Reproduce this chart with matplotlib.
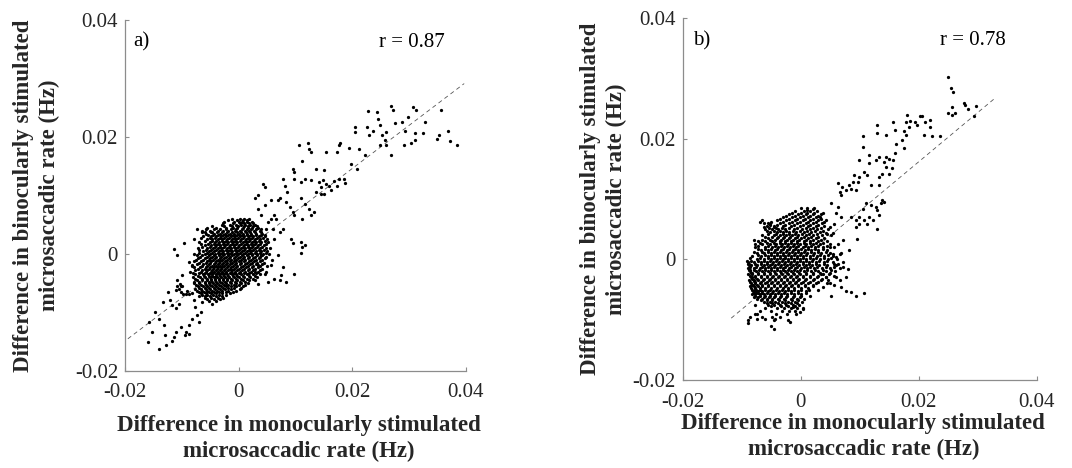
"""
plot.py
-------
Two-panel scatter: difference in binocularly vs monocularly stimulated
microsaccadic rate, with a dashed least-squares line and the correlation
coefficient in each panel.
"""

import matplotlib
matplotlib.use("Agg")

import matplotlib.pyplot as plt

# All point values are in units of 1e-3 Hz
SCALE = 1e-3

# --- Panel a) --------------------------------------------------------------
# sparse points along the trend (upper right) and the lower-left tail
a_outer_x = [
    20.4, 20.5, 22.6, 22.7, 23.0, 23.7, 24.3, 24.6, 24.9, 25.2, 24.8, 25.7,
    26.0, 26.9, 27.2, 27.5, 26.9, 28.8, 29.1, 29.2, 29.8, 30.7, 30.4, 31.0,
    31.3, 31.0, 32.4, 32.8, 35.0, 35.6, 36.8, 37.2, 38.5, 35.3, 26.0,
    10.7, 12.2, 12.4, 12.7, 15.3, 11.2, 13.6, 15.1, 17.6, 17.9, 19.4, 17.3,
    19.8, 20.8, 21.2, 22.3, 9.5, 9.8, 9.8, 11.0, 11.6, 12.7, 14.1, 14.9,
    15.3, 15.9, 14.5, 13.6, 14.5, 15.1, 16.8, 17.6, 18.5, 18.8, 17.3, 16.2,
    7.8, 8.1, 8.6, 6.9, 5.7, 4.6, 3.4, 4.0, 4.9, 5.7, 6.3, 7.2, 8.4, 9.0,
    9.5, 9.8, 11.0, 11.6, 12.4, 12.7, 13.3, 11.2, 4.3, 4.6, 3.4, 2.8,
    9.2, 9.5, 11.0, 11.2, 11.6, 11.0, 9.8, 7.8, 7.5, 7.2, 8.4, 6.3, 5.2,
    3.4, 4.6, 5.7, 6.9, 6.3, 7.2, 7.8, 6.0, 6.6, 5.2, 4.6, 4.0, 3.4, 2.8,
    -16.0, -14.0, -12.8, -15.2, -15.7, -14.8, -14.0, -13.2, -12.9, -11.7,
    -11.1, -11.4, -13.3, -12.5, -12.0, -11.7, -11.1, -10.5, -10.1, -9.5,
    -9.2, -8.8, -8.8, -8.2, -7.6, -7.3, -7.0, -6.7, -7.9, -7.0, -6.4,
    -11.4, -10.8, -9.6, -7.9, -6.4, -7.3, -4.7, -8.8, -8.2,
    -10.8, -10.2, -9.9, -10.5, -10.2, -9.8, -9.3, -8.8, -8.2, -10.8, -10.4,
    -9.9, -11.0, -9.0,
]
a_outer_y = [
    21.7, 20.9, 21.7, 24.4, 20.4, 21.0, 24.3, 23.1, 22.0, 20.3, 18.6, 19.4,
    20.9, 25.3, 24.6, 22.4, 17.0, 22.5, 18.6, 21.1, 23.4, 25.1, 19.0, 20.6,
    24.6, 19.4, 20.6, 22.6, 19.7, 24.6, 21.0, 19.3, 18.7, 20.4, 18.6,
    18.7, 18.9, 18.0, 17.4, 17.5, 15.9, 14.5, 14.3, 18.6, 18.9, 18.2, 17.4,
    15.4, 14.5, 18.0, 16.9, 14.6, 14.0, 12.9, 12.3, 12.9, 12.6, 12.3, 12.6,
    12.0, 11.7, 11.5, 10.6, 10.3, 10.3, 12.4, 12.9, 12.9, 12.1, 11.7, 10.9,
    12.9, 11.7, 10.6, 9.2, 9.2, 8.3, 7.7, 6.6, 4.3, 6.0, 6.6, 9.5, 8.9, 8.0,
    7.2, 6.6, 9.5, 8.6, 7.7, 6.6, 7.2, 6.0, 12.0, 11.5, 10.0, 9.5,
    2.6, 1.8, 2.1, 1.2, 1.6, 0.1, -3.4, -2.2, -3.6, -4.5, -4.8, -4.2, -4.8,
    -5.1, -3.4, -1.9, -0.2, 2.6, 3.8, 4.3, 4.3, 6.0, 5.5, 3.2, -0.2, -1.9, -3.1,
    -15.0, -16.2, -15.6, -13.3, -11.6, -9.9, -11.1, -12.2, -13.9, -14.8,
    -13.3, -14.2, -8.2, -6.5, -7.9, -8.8, -9.3, -8.5, -12.5, -13.9,
    -13.3, -12.2, -13.6, -11.1, -9.1, -10.5, -11.6, -9.9, -7.9, -7.1, -8.2,
    0.9, -0.2, 1.8, 2.6, 3.8, 4.3, 3.8, -1.4, -1.9,
    -4.5, -5.4, -3.6, -6.0, -6.5, -6.8, -6.9, -6.8, -6.6, -5.5, -5.2,
    -5.4, -6.2, -6.3,
]
# dense central cloud, one row of x values per y level
a_core_rows = [
    (6.0, [-1.2, 0.3, 1.0, 1.8]),
    (5.5, [-2.5, -0.8, 0.0, 0.6, 1.5, 2.3]),
    (5.0, [-3.0, -1.5, -0.5, 0.4, 1.2, 2.0, 2.8]),
    (4.5, [-5.5, -4.0, -2.2, -1.0, -0.2, 0.8, 1.6, 2.4, 3.4]),
    (4.0, [-6.5, -5.0, -3.6, -2.8, -1.8, -0.6, 0.2, 1.1, 1.9, 2.7, 3.8]),
    (3.5, [-5.8, -4.4, -3.3, -2.4, -1.5, -0.9, 0.1, 0.7, 1.5, 2.2, 3.1, 4.2]),
    (3.0, [-6.2, -4.9, -4.0, -3.1, -2.2, -1.4, -0.6, 0.3, 1.0, 1.8, 2.6, 3.5, 4.6]),
    (2.5, [-5.5, -4.6, -3.7, -2.9, -2.0, -1.2, -0.4, 0.5, 1.3, 2.0, 2.9, 3.8, 5.0]),
    (2.0, [-7.0, -5.1, -4.2, -3.4, -2.6, -1.8, -1.0, -0.2, 0.7, 1.5, 2.3, 3.1, 4.0, 5.2]),
    (1.5, [-6.0, -4.8, -4.0, -3.2, -2.4, -1.6, -0.8, 0.0, 0.9, 1.7, 2.5, 3.4, 4.4]),
    (1.0, [-7.2, -5.5, -4.5, -3.7, -2.9, -2.1, -1.3, -0.5, 0.4, 1.2, 2.0, 2.8, 3.7, 4.8, 5.6]),
    (0.5, [-6.3, -5.2, -4.3, -3.5, -2.7, -1.9, -1.1, -0.3, 0.6, 1.4, 2.2, 3.1, 4.0, 5.0]),
    (0.0, [-7.8, -6.0, -5.0, -4.1, -3.3, -2.5, -1.7, -0.9, -0.1, 0.7, 1.6, 2.4, 3.3, 4.3, 5.4]),
    (-0.5, [-6.8, -5.6, -4.7, -3.9, -3.1, -2.3, -1.5, -0.7, 0.2, 1.0, 1.9, 2.8, 3.8, 4.9]),
    (-1.0, [-7.5, -6.2, -5.3, -4.5, -3.7, -2.9, -2.1, -1.3, -0.5, 0.4, 1.2, 2.1, 3.0, 4.1, 5.8]),
    (-1.5, [-6.9, -5.8, -5.0, -4.2, -3.5, -2.8, -2.0, -1.2, -0.4, 0.5, 1.4, 2.3, 3.3, 4.5]),
    (-2.0, [-8.2, -6.5, -5.5, -4.7, -4.0, -3.3, -2.6, -1.8, -1.0, -0.2, 0.7, 1.6, 2.6, 3.7, 5.0]),
    (-2.5, [-7.2, -6.0, -5.2, -4.5, -3.8, -3.1, -2.4, -1.6, -0.8, 0.1, 1.0, 1.9, 2.9, 4.2]),
    (-3.0, [-8.5, -6.7, -5.7, -4.9, -4.3, -3.6, -2.9, -2.2, -1.4, -0.6, 0.3, 1.2, 2.2, 3.4, 4.8]),
    (-3.5, [-7.6, -6.3, -5.4, -4.7, -4.0, -3.4, -2.7, -2.0, -1.2, -0.4, 0.5, 1.5, 2.6, 3.8]),
    (-4.0, [-8.0, -6.8, -5.9, -5.1, -4.4, -3.8, -3.1, -2.4, -1.7, -0.9, 0.0, 1.0, 2.0, 3.2]),
    (-4.5, [-7.4, -6.4, -5.6, -4.9, -4.2, -3.5, -2.8, -2.0, -1.2, -0.3, 0.7, 1.8, 2.9]),
    (-5.0, [-7.8, -6.9, -6.0, -5.2, -4.5, -3.8, -3.0, -2.2, -1.4, -0.5, 0.5, 1.6]),
    (-5.5, [-7.2, -6.3, -5.5, -4.7, -3.9, -3.1, -2.3, -1.4, -0.4, 0.8]),
    (-6.0, [-7.6, -6.6, -5.8, -5.0, -4.2, -3.3, -2.4, -1.3, 0.2]),
    (-6.5, [-7.0, -6.1, -5.2, -4.3, -3.4, -2.3, -1.0]),
    (-7.0, [-6.5, -5.5, -4.5, -3.5, -2.2]),
    (-7.5, [-6.0, -4.9, -3.7, -2.8]),
    (-8.0, [-5.2, -3.9]),
    (-8.5, [-4.6]),
]
# in-between rows of the same cloud (offset so the dots don't line up)
a_core_rows_mid = [
    (5.75, [-1.8, -0.3, 0.7, 1.4]),
    (5.25, [-2.8, -1.0, 0.2, 1.0, 1.8, 2.6]),
    (4.75, [-4.6, -2.6, -1.2, -0.1, 0.9, 1.7, 2.5, 3.2]),
    (4.25, [-5.8, -4.4, -3.2, -2.3, -1.4, -0.4, 0.6, 1.4, 2.2, 3.0, 4.0]),
    (3.75, [-6.0, -4.8, -3.8, -2.9, -2.0, -1.2, -0.3, 0.5, 1.3, 2.0, 2.9, 3.9]),
    (3.25, [-5.4, -4.5, -3.6, -2.7, -1.9, -1.0, -0.2, 0.6, 1.4, 2.2, 3.0, 4.0]),
    (2.75, [-6.6, -5.0, -4.2, -3.3, -2.5, -1.7, -0.9, -0.1, 0.8, 1.6, 2.4, 3.3, 4.3]),
    (2.25, [-6.0, -4.7, -3.9, -3.0, -2.2, -1.4, -0.6, 0.2, 1.1, 1.9, 2.7, 3.6, 4.6]),
    (1.75, [-6.6, -5.4, -4.4, -3.6, -2.8, -2.0, -1.2, -0.4, 0.4, 1.3, 2.1, 2.9, 3.8, 4.9]),
    (1.25, [-6.5, -5.0, -4.1, -3.3, -2.5, -1.7, -0.9, -0.1, 0.8, 1.6, 2.4, 3.2, 4.2]),
    (0.75, [-6.9, -5.8, -4.8, -3.9, -3.1, -2.3, -1.5, -0.7, 0.1, 1.0, 1.8, 2.6, 3.5, 4.5]),
    (0.25, [-7.0, -5.6, -4.6, -3.7, -2.9, -2.1, -1.3, -0.5, 0.3, 1.1, 2.0, 2.8, 3.7, 4.8]),
    (-0.25, [-7.3, -6.4, -5.3, -4.4, -3.5, -2.7, -1.9, -1.1, -0.3, 0.6, 1.4, 2.3, 3.2, 4.2]),
    (-0.75, [-7.1, -5.9, -5.0, -4.1, -3.3, -2.5, -1.7, -0.9, -0.1, 0.8, 1.6, 2.5, 3.5, 4.6]),
    (-1.25, [-7.8, -6.6, -5.6, -4.8, -4.0, -3.2, -2.4, -1.6, -0.8, 0.0, 0.9, 1.8, 2.7, 3.7]),
    (-1.75, [-7.4, -6.2, -5.2, -4.4, -3.7, -3.0, -2.3, -1.5, -0.7, 0.2, 1.1, 2.0, 3.0, 4.2]),
    (-2.25, [-7.8, -6.8, -5.8, -5.0, -4.3, -3.6, -2.9, -2.1, -1.3, -0.5, 0.4, 1.3, 2.3, 3.4]),
    (-2.75, [-7.6, -6.4, -5.5, -4.7, -4.0, -3.3, -2.6, -1.9, -1.1, -0.3, 0.6, 1.6, 2.6, 3.8]),
    (-3.25, [-8.0, -7.0, -6.0, -5.1, -4.5, -3.8, -3.1, -2.4, -1.6, -0.8, 0.0, 0.9, 1.9, 3.0]),
    (-3.75, [-7.2, -6.1, -5.2, -4.6, -3.9, -3.2, -2.5, -1.8, -1.0, -0.2, 0.8, 1.8, 2.9]),
    (-4.25, [-7.6, -6.5, -5.6, -4.8, -4.1, -3.4, -2.7, -2.0, -1.3, -0.5, 0.4, 1.4, 2.5]),
    (-4.75, [-7.9, -6.9, -6.0, -5.3, -4.6, -3.9, -3.2, -2.4, -1.6, -0.7, 0.2, 1.2]),
    (-5.25, [-7.5, -6.6, -5.8, -5.0, -4.2, -3.4, -2.6, -1.8, -0.9, 0.1, 1.1]),
    (-5.75, [-7.0, -6.0, -5.2, -4.4, -3.6, -2.7, -1.8, -0.8, 0.5]),
    (-6.25, [-7.3, -6.4, -5.5, -4.6, -3.8, -2.9, -1.8, -0.5]),
    (-6.75, [-6.7, -5.7, -4.8, -3.9, -2.9, -1.6]),
    (-7.25, [-6.0, -5.0, -4.0, -3.0]),
    (-7.75, [-5.5, -4.3, -3.3]),
]
a_fit = dict(slope=0.737, intercept=-0.13, x_from=-19.5, x_to=39.7)
a_r_text = "r = 0.87"

# --- Panel b) --------------------------------------------------------------
b_outer_x = [
    25.0, 25.5, 25.9, 25.6, 25.0, 25.6, 26.1, 27.6, 27.9, 28.4, 29.8, 29.3, 23.6,
    20.3, 20.6, 21.1, 21.9, 22.2, 20.9, 21.9, 19.4, 19.7, 18.6, 18.0, 17.8,
    18.3, 17.5, 17.8, 17.2, 17.5, 15.9, 15.6, 16.1, 15.9, 15.6, 15.0, 14.4,
    14.1, 14.4, 15.4, 15.0, 13.8, 13.3, 13.3, 12.7, 13.0, 13.0, 14.4, 11.6,
    10.5, 10.5, 9.9, 11.6, 10.8, 11.3, 9.9, 9.1, 8.8, 8.2, 8.5, 7.7, 7.0,
    6.6, 6.8, 6.3, 9.4, 9.7, 11.9, 13.3, 13.8, 14.1, 12.7, 13.0, 13.3, 13.0,
    12.2, 11.6, 11.3, 10.8, 9.8, 10.5, 11.0, 11.9, 13.6, 9.4, 9.4, 9.6, 9.9,
    8.5, 6.9, 6.3, 5.2, 6.0, 5.7, 4.9, 5.4, 7.1, 6.3, 8.2, 6.6, 6.0, 5.7,
    7.1, 8.0, 7.7, 6.6, 6.8, 7.7, 8.5, 9.4, 10.8, 5.2, 5.7, 4.9, 4.3,
    -9.0, -7.7, -7.5, -6.1, -4.6, -4.4, -1.8, -0.2, 0.4, -1.3,
    -6.9, -6.3, -5.2, -4.6, -8.0, -7.7, -9.1, -8.9, -8.6,
    3.2, 3.8, 2.1, 1.0, 4.3, 4.9, 5.4, 6.3, 5.2, 3.8, 4.6, 5.7, 3.8,
    -8.2, -8.0, -7.8, -8.1, -7.9, -8.3, -7.6, -7.9, -8.4, -8.8,
]
b_outer_y = [
    30.2, 28.4, 27.7, 25.2, 24.2, 23.9, 24.3, 25.9, 25.6, 25.0, 25.4, 23.7, 20.4,
    23.7, 23.8, 22.8, 23.1, 20.4, 20.6, 22.0, 22.8, 22.3, 23.0, 23.9, 22.8,
    22.0, 21.2, 20.6, 19.8, 18.4, 21.4, 22.8, 19.2, 17.6, 16.5, 16.7, 17.0,
    16.2, 15.3, 15.1, 14.2, 14.2, 13.7, 17.0, 16.5, 20.9, 22.3, 20.6, 17.3,
    20.4, 18.7, 16.5, 15.9, 14.5, 14.0, 13.7, 14.0, 12.9, 12.3, 11.7, 11.5, 12.0,
    11.2, 10.6, 12.6, 11.5, 12.9, 12.3, 12.3, 9.8, 9.5, 8.7, 8.1, 7.3, 5.1,
    6.5, 7.0, 5.9, 6.5, 7.0, 8.4, 9.3, 9.0, 9.3, 6.5, 5.4, 3.4, 5.9,
    7.0, 7.0, 8.7, 9.3, 7.6, 5.9, 5.4, 4.3, 3.2, 2.6, 1.5, 0.9, 0.4, -0.7,
    -1.3, -1.6, -2.9, -3.5, -4.6, -5.2, -5.4, -6.0, -5.6, -6.0, -2.7, -4.0, -2.9,
    -10.6, -9.0, -9.9, -9.9, -11.5, -9.9, -10.4, -8.8, -8.2, -7.9,
    6.2, 5.4, 5.8, 5.4, 3.2, 2.6, -0.2, -0.7, -1.8,
    7.0, 7.6, 8.4, 8.1, 4.3, 2.0, 0.9, -0.7, -1.8, -2.4, -3.5, -4.3, -4.6,
    -5.8, -5.2, -4.8, -4.2, -3.6, -3.0, -5.5, -6.3, -2.3, -1.0,
]
b_core_rows = [
    (8.5, [0.0, 1.0, 2.2]),
    (8.0, [-1.0, 0.5, 1.5, 2.8]),
    (7.5, [-2.0, -0.5, 0.8, 2.0, 3.4]),
    (7.0, [-3.0, -1.5, -0.2, 1.2, 2.5]),
    (6.5, [-6.6, -4.0, -2.5, -1.0, 0.3, 1.6, 3.0, 4.2]),
    (6.0, [-6.2, -5.5, -3.5, -2.0, -0.6, 0.8, 2.0, 3.6]),
    (5.5, [-5.8, -4.5, -3.0, -1.6, -0.2, 1.2, 2.5, 4.0]),
    (5.0, [-6.0, -4.8, -3.8, -2.6, -1.2, 0.2, 1.5, 2.8, 4.6]),
    (4.5, [-5.2, -4.0, -3.1, -2.0, -0.8, 0.5, 1.8, 3.2]),
    (4.0, [-6.5, -4.6, -3.5, -2.5, -1.5, -0.4, 0.8, 2.1, 3.6, 5.2]),
    (3.5, [-5.5, -4.1, -3.0, -2.0, -1.0, 0.1, 1.2, 2.5, 4.0]),
    (3.0, [-7.2, -6.0, -4.8, -3.6, -2.6, -1.6, -0.6, 0.5, 1.6, 2.9, 4.4]),
    (2.5, [-6.5, -5.2, -4.2, -3.2, -2.2, -1.2, -0.2, 0.9, 2.0, 3.3, 5.0]),
    (2.0, [-7.8, -6.0, -4.8, -3.8, -2.8, -1.8, -0.8, 0.3, 1.3, 2.4, 3.8, 5.6]),
    (1.5, [-6.8, -5.5, -4.4, -3.4, -2.4, -1.4, -0.4, 0.7, 1.8, 3.0, 4.4]),
    (1.0, [-7.5, -6.2, -5.0, -4.0, -3.0, -2.0, -1.0, 0.0, 1.1, 2.2, 3.5, 5.0, 6.8]),
    (0.5, [-8.2, -6.8, -5.6, -4.6, -3.6, -2.6, -1.6, -0.6, 0.4, 1.5, 2.7, 4.0, 5.5]),
    (0.0, [-7.5, -6.2, -5.1, -4.1, -3.1, -2.1, -1.1, -0.1, 0.9, 2.0, 3.2, 4.6, 6.2]),
    (-0.5, [-9.0, -8.0, -6.8, -5.7, -4.7, -3.7, -2.7, -1.7, -0.7, 0.3, 1.4, 2.6, 3.9, 5.4, 7.2]),
    (-1.0, [-8.5, -7.4, -6.3, -5.3, -4.3, -3.3, -2.3, -1.3, -0.3, 0.8, 1.9, 3.1, 4.5, 6.0]),
    (-1.5, [-9.0, -8.0, -7.0, -6.0, -5.0, -4.0, -3.0, -2.0, -1.0, 0.0, 1.1, 2.3, 3.6, 5.0, 6.6]),
    (-2.0, [-8.6, -7.6, -6.6, -5.6, -4.6, -3.6, -2.6, -1.6, -0.6, 0.5, 1.7, 3.0, 4.3, 5.8]),
    (-2.5, [-8.9, -8.2, -7.2, -6.2, -5.2, -4.2, -3.2, -2.2, -1.2, -0.2, 0.9, 2.1, 3.4, 4.8]),
    (-3.0, [-8.5, -7.8, -6.8, -5.8, -4.8, -3.8, -2.8, -1.8, -0.8, 0.3, 1.5, 2.8, 4.2, 6.0]),
    (-3.5, [-8.8, -8.0, -7.3, -6.4, -5.4, -4.4, -3.4, -2.4, -1.4, -0.4, 0.7, 2.0, 3.4]),
    (-4.0, [-8.4, -7.7, -6.9, -6.0, -5.0, -4.0, -3.0, -2.0, -1.0, 0.1, 1.3, 2.6, 4.4]),
    (-4.5, [-8.6, -8.0, -7.3, -6.5, -5.6, -4.6, -3.6, -2.6, -1.6, -0.5, 0.7, 2.0]),
    (-5.0, [-8.3, -7.6, -6.9, -6.1, -5.2, -4.2, -3.2, -2.2, -1.1, 0.1, 1.4, 3.0]),
    (-5.5, [-8.0, -7.3, -6.5, -5.7, -4.8, -3.8, -2.8, -1.7, -0.5, 0.8]),
    (-6.0, [-7.7, -7.0, -6.1, -5.2, -4.3, -3.3, -2.3, -1.2, 0.0, 1.6]),
    (-6.5, [-7.4, -6.6, -5.7, -4.8, -3.8, -2.8, -1.7, -0.6, 0.6]),
    (-7.0, [-6.2, -5.2, -4.3, -3.2, -2.1, -1.0, 0.2]),
    (-7.5, [-7.8, -5.6, -4.6, -3.6, -2.5, -1.4, -0.3]),
    (-8.0, [-6.0, -4.0, -2.8, -1.6, -0.6, 0.4]),
    (-8.5, [-7.0, -5.0, -3.2, -2.0, -1.0]),
    (-9.0, [-7.5, -4.2, -2.4, -0.8]),
    (-9.5, [-8.6, -6.5, -4.8, -3.5]),
    (-10.0, [-9.0, -4.5, -2.2]),
    (-11.0, [-5.0]),
]
b_core_rows_mid = [
    (7.75, [-1.5, 0.0, 1.0, 2.3]),
    (7.25, [-2.5, -1.0, 0.3, 1.6, 3.0]),
    (6.75, [-3.5, -2.0, -0.7, 0.7, 2.0, 3.4]),
    (6.25, [-5.0, -3.0, -1.5, -0.1, 1.2, 2.6, 4.0]),
    (5.75, [-5.2, -4.0, -2.6, -1.1, 0.3, 1.6, 3.0]),
    (5.25, [-5.4, -4.2, -3.2, -2.0, -0.6, 0.8, 2.1, 3.5]),
    (4.75, [-5.8, -4.5, -3.5, -2.5, -1.4, -0.1, 1.1, 2.4, 3.8]),
    (4.25, [-5.5, -4.2, -3.0, -2.0, -0.9, 0.2, 1.4, 2.8, 4.4]),
    (3.75, [-6.0, -4.9, -3.8, -2.8, -1.8, -0.7, 0.5, 1.7, 3.0]),
    (3.25, [-6.6, -5.3, -4.3, -3.3, -2.3, -1.3, -0.3, 0.8, 2.0, 3.4]),
    (2.75, [-7.0, -5.7, -4.6, -3.6, -2.6, -1.6, -0.6, 0.5, 1.5, 2.6, 3.8]),
    (2.25, [-7.2, -5.5, -4.4, -3.4, -2.4, -1.4, -0.4, 0.7, 1.8, 3.0, 4.4]),
    (1.75, [-7.3, -6.0, -5.0, -4.0, -3.0, -2.0, -1.0, 0.1, 1.2, 2.4, 3.7]),
    (1.25, [-8.0, -6.6, -5.5, -4.5, -3.5, -2.5, -1.5, -0.5, 0.6, 1.7, 2.9, 4.2]),
    (0.75, [-7.2, -6.0, -5.1, -4.1, -3.1, -2.1, -1.1, -0.1, 0.9, 2.0, 3.2, 4.6]),
    (0.25, [-8.6, -6.9, -5.6, -4.6, -3.6, -2.6, -1.6, -0.6, 0.4, 1.5, 2.6, 3.9, 5.2]),
    (-0.25, [-8.4, -7.2, -6.2, -5.2, -4.2, -3.2, -2.2, -1.2, -0.2, 0.8, 1.9, 3.1, 4.5]),
    (-0.75, [-8.8, -7.8, -6.8, -5.8, -4.8, -3.8, -2.8, -1.8, -0.8, 0.3, 1.4, 2.6, 4.0]),
    (-1.25, [-8.6, -7.6, -6.6, -5.6, -4.6, -3.6, -2.6, -1.6, -0.6, 0.5, 1.6, 2.8, 4.2, 5.6]),
    (-1.75, [-8.8, -8.0, -7.1, -6.1, -5.1, -4.1, -3.1, -2.1, -1.1, -0.1, 1.1, 2.4, 3.8]),
    (-2.25, [-8.3, -7.3, -6.3, -5.3, -4.3, -3.3, -2.3, -1.3, -0.3, 0.8, 2.0, 3.3, 5.0]),
    (-2.75, [-8.6, -7.7, -6.7, -5.7, -4.7, -3.7, -2.7, -1.7, -0.7, 0.4, 1.6, 2.9]),
    (-3.25, [-8.2, -7.5, -6.3, -5.3, -4.3, -3.3, -2.3, -1.3, -0.3, 0.9, 2.2, 3.6]),
    (-3.75, [-8.6, -7.8, -6.8, -5.8, -4.8, -3.8, -2.8, -1.8, -0.8, 0.3, 1.5, 2.9]),
    (-4.25, [-8.2, -7.4, -6.5, -5.5, -4.5, -3.5, -2.5, -1.5, -0.5, 0.7, 2.0]),
    (-4.75, [-8.4, -7.8, -7.0, -6.1, -5.1, -4.1, -3.1, -2.1, -1.1, 0.0, 1.2]),
    (-5.25, [-8.1, -7.3, -6.5, -5.6, -4.7, -3.7, -2.7, -1.6, -0.5, 0.8]),
    (-5.75, [-7.8, -7.0, -6.2, -5.3, -4.3, -3.3, -2.3, -1.2, 0.0]),
    (-6.25, [-7.3, -6.3, -5.4, -4.5, -3.5, -2.5, -1.4, -0.2]),
    (-6.75, [-6.8, -5.8, -4.8, -3.7, -2.6, -1.5, -0.4]),
    (-7.25, [-5.8, -4.8, -3.8, -2.7, -1.6, -0.6]),
    (-7.75, [-5.0, -3.4, -2.2, -1.0]),
]
b_fit = dict(slope=0.815, intercept=-0.13, x_from=-11.8, x_to=32.8)
b_r_text = "r = 0.78"

ticks = [-0.02, 0, 0.02, 0.04]
tick_labels = ["-0.02", "0", "0.02", "0.04"]
x_label = "Difference in monocularly stimulated\nmicrosaccadic rate (Hz)"
y_label = "Difference in binocularly stimulated\nmicrosaccadic rate (Hz)"

plt.rcParams["font.family"] = "serif"
plt.rcParams["font.serif"] = ["Liberation Serif", "DejaVu Serif"]


def collect_points(outer_x, outer_y, *row_sets):
    """Merge the sparse points and the row-wise core into x/y lists (Hz)."""
    xs = [v * SCALE for v in outer_x]
    ys = [v * SCALE for v in outer_y]
    for rows in row_sets:
        for y_val, row in rows:
            for x_val in row:
                xs.append(x_val * SCALE)
                ys.append(y_val * SCALE)
    return xs, ys


def draw_panel(ax, xs, ys, fit, tag, r_text, tag_x, r_x, ylabel_x, xlabel_y):
    ax.scatter(xs, ys, s=5.5, c="black", linewidths=0, zorder=3)

    # dashed least-squares line
    x0, x1 = fit["x_from"] * SCALE, fit["x_to"] * SCALE
    y0 = fit["slope"] * x0 + fit["intercept"] * SCALE
    y1 = fit["slope"] * x1 + fit["intercept"] * SCALE
    ax.plot([x0, x1], [y0, y1], ls=(0, (5, 4)), lw=0.6, color="#555555", zorder=2)

    ax.set_xlim(-0.02, 0.04)
    ax.set_ylim(-0.02, 0.04)
    ax.set_xticks(ticks)
    ax.set_xticklabels(tick_labels)
    ax.set_yticks(ticks)
    ax.set_yticklabels(tick_labels)

    for side in ("top", "right"):
        ax.spines[side].set_visible(False)
    for side in ("left", "bottom"):
        ax.spines[side].set_color("#8c8c8c")
        ax.spines[side].set_linewidth(0.9)
    ax.tick_params(direction="in", length=3, width=0.8, color="#8c8c8c",
                   labelsize=15, labelcolor="#262626")
    ax.tick_params(axis="x", pad=9)
    ax.tick_params(axis="y", pad=5)

    ax.text(tag_x, 0.937, tag, transform=ax.transAxes, fontsize=15, va="center")
    ax.text(r_x, 0.937, r_text, transform=ax.transAxes, fontsize=15,
            va="center", ha="center")

    ax.set_xlabel(x_label, fontsize=16.5, fontweight="bold", color="#262626",
                  linespacing=1.3)
    ax.set_ylabel(y_label, fontsize=16.5, fontweight="bold", color="#262626",
                  linespacing=1.3)
    ax.xaxis.set_label_coords(0.51, xlabel_y)
    ax.yaxis.set_label_coords(ylabel_x, 0.5)


fig = plt.figure(figsize=(10.72, 4.68), dpi=100)
ax_a = fig.add_axes([0.1166, 0.2073, 0.318, 0.75])
ax_b = fig.add_axes([0.637, 0.188, 0.330, 0.7735])

xa, ya = collect_points(a_outer_x, a_outer_y, a_core_rows, a_core_rows_mid)
xb, yb = collect_points(b_outer_x, b_outer_y, b_core_rows, b_core_rows_mid)

draw_panel(ax_a, xa, ya, a_fit, "a)", a_r_text, tag_x=0.023, r_x=0.842,
           ylabel_x=-0.19, xlabel_y=-0.125)
draw_panel(ax_b, xb, yb, b_fit, "b)", b_r_text, tag_x=0.029, r_x=0.819,
           ylabel_x=-0.157, xlabel_y=-0.092)

fig.savefig("out.png", dpi=100)
